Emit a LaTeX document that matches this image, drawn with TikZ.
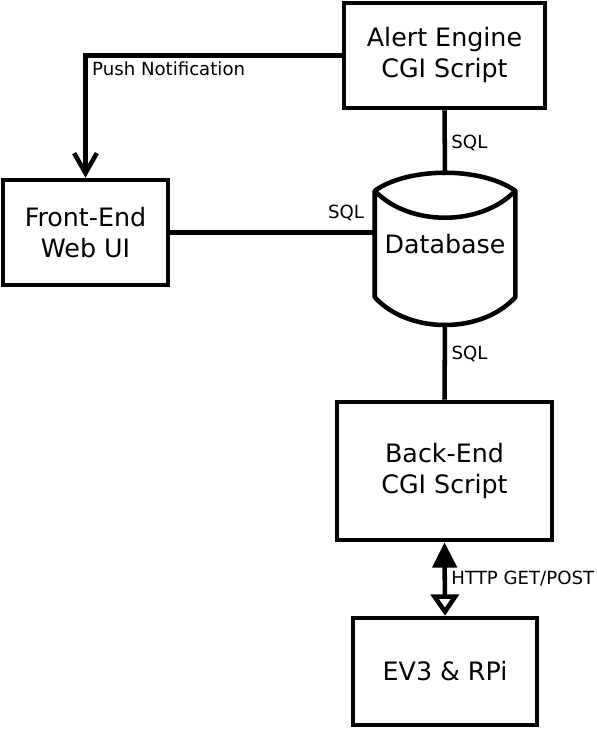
\documentclass[tikz,border=0pt]{standalone}
\usepackage{fontspec}
\setmainfont{DejaVu Sans}
\usetikzlibrary{arrows.meta}

\begin{document}
\begin{tikzpicture}[x=0.75pt, y=-0.75pt, line width=3.4pt,
    block/.style={draw, align=center, font=\fontsize{19}{23.25}\selectfont},
    lbl/.style={font=\fontsize{13.6}{16}\selectfont}]
          \useasboundingbox (0,0) rectangle (596,730);

          \node[block, minimum width=150.75pt, minimum height=78.75pt] (alert) at (444.5,55.5) {Alert Engine\\CGI Script};
          \node[block, minimum width=123.75pt, minimum height=78.75pt] (front) at (85.5,232.5) {Front-End\\Web UI};

          \node[block, draw=none, minimum width=102pt, minimum height=76.5pt] (db) at (445,244) {Database};
          \coordinate (dbtop) at (445,175);
          \coordinate (dbbot) at (445,323);

          \node[block, minimum width=161.25pt, minimum height=103.5pt] (back) at (444.5,471) {Back-End\\CGI Script};
          \node[block, minimum width=138pt, minimum height=80.25pt] (ev3) at (445,671.5) {EV3 \& RPi};

          % database drum
          \draw[line join=round] (db.north west) .. controls +(34,-24) and +(-34,-24) .. (db.north east)
                .. controls +(-34,36) and +(34,36) .. (db.north west) -- (db.south west)
                .. controls +(34,37) and +(-34,37) .. (db.south east) -- (db.north east);

          \draw[-{Straight Barb[length=15pt, width=17pt]}] (alert.west) -| (front.north) node[pos=0.5, below right, lbl] {Push Notification};

          \draw (alert.south) -- (dbtop) node[midway, right, lbl] {SQL};
          \draw (front.east) -- (front.east -| db.west) node[pos=0.86, above=4pt, lbl] {SQL};
          \draw (dbbot) -- (back.north) node[pos=0.4, right, lbl] {SQL};

          \draw[{Triangle[length=19pt, width=18pt]}-{Triangle[open, length=16pt, width=21pt]}] (back.south) -- (ev3.north) node[midway, right, lbl] {HTTP GET/POST};
        \end{tikzpicture}
\end{document}
